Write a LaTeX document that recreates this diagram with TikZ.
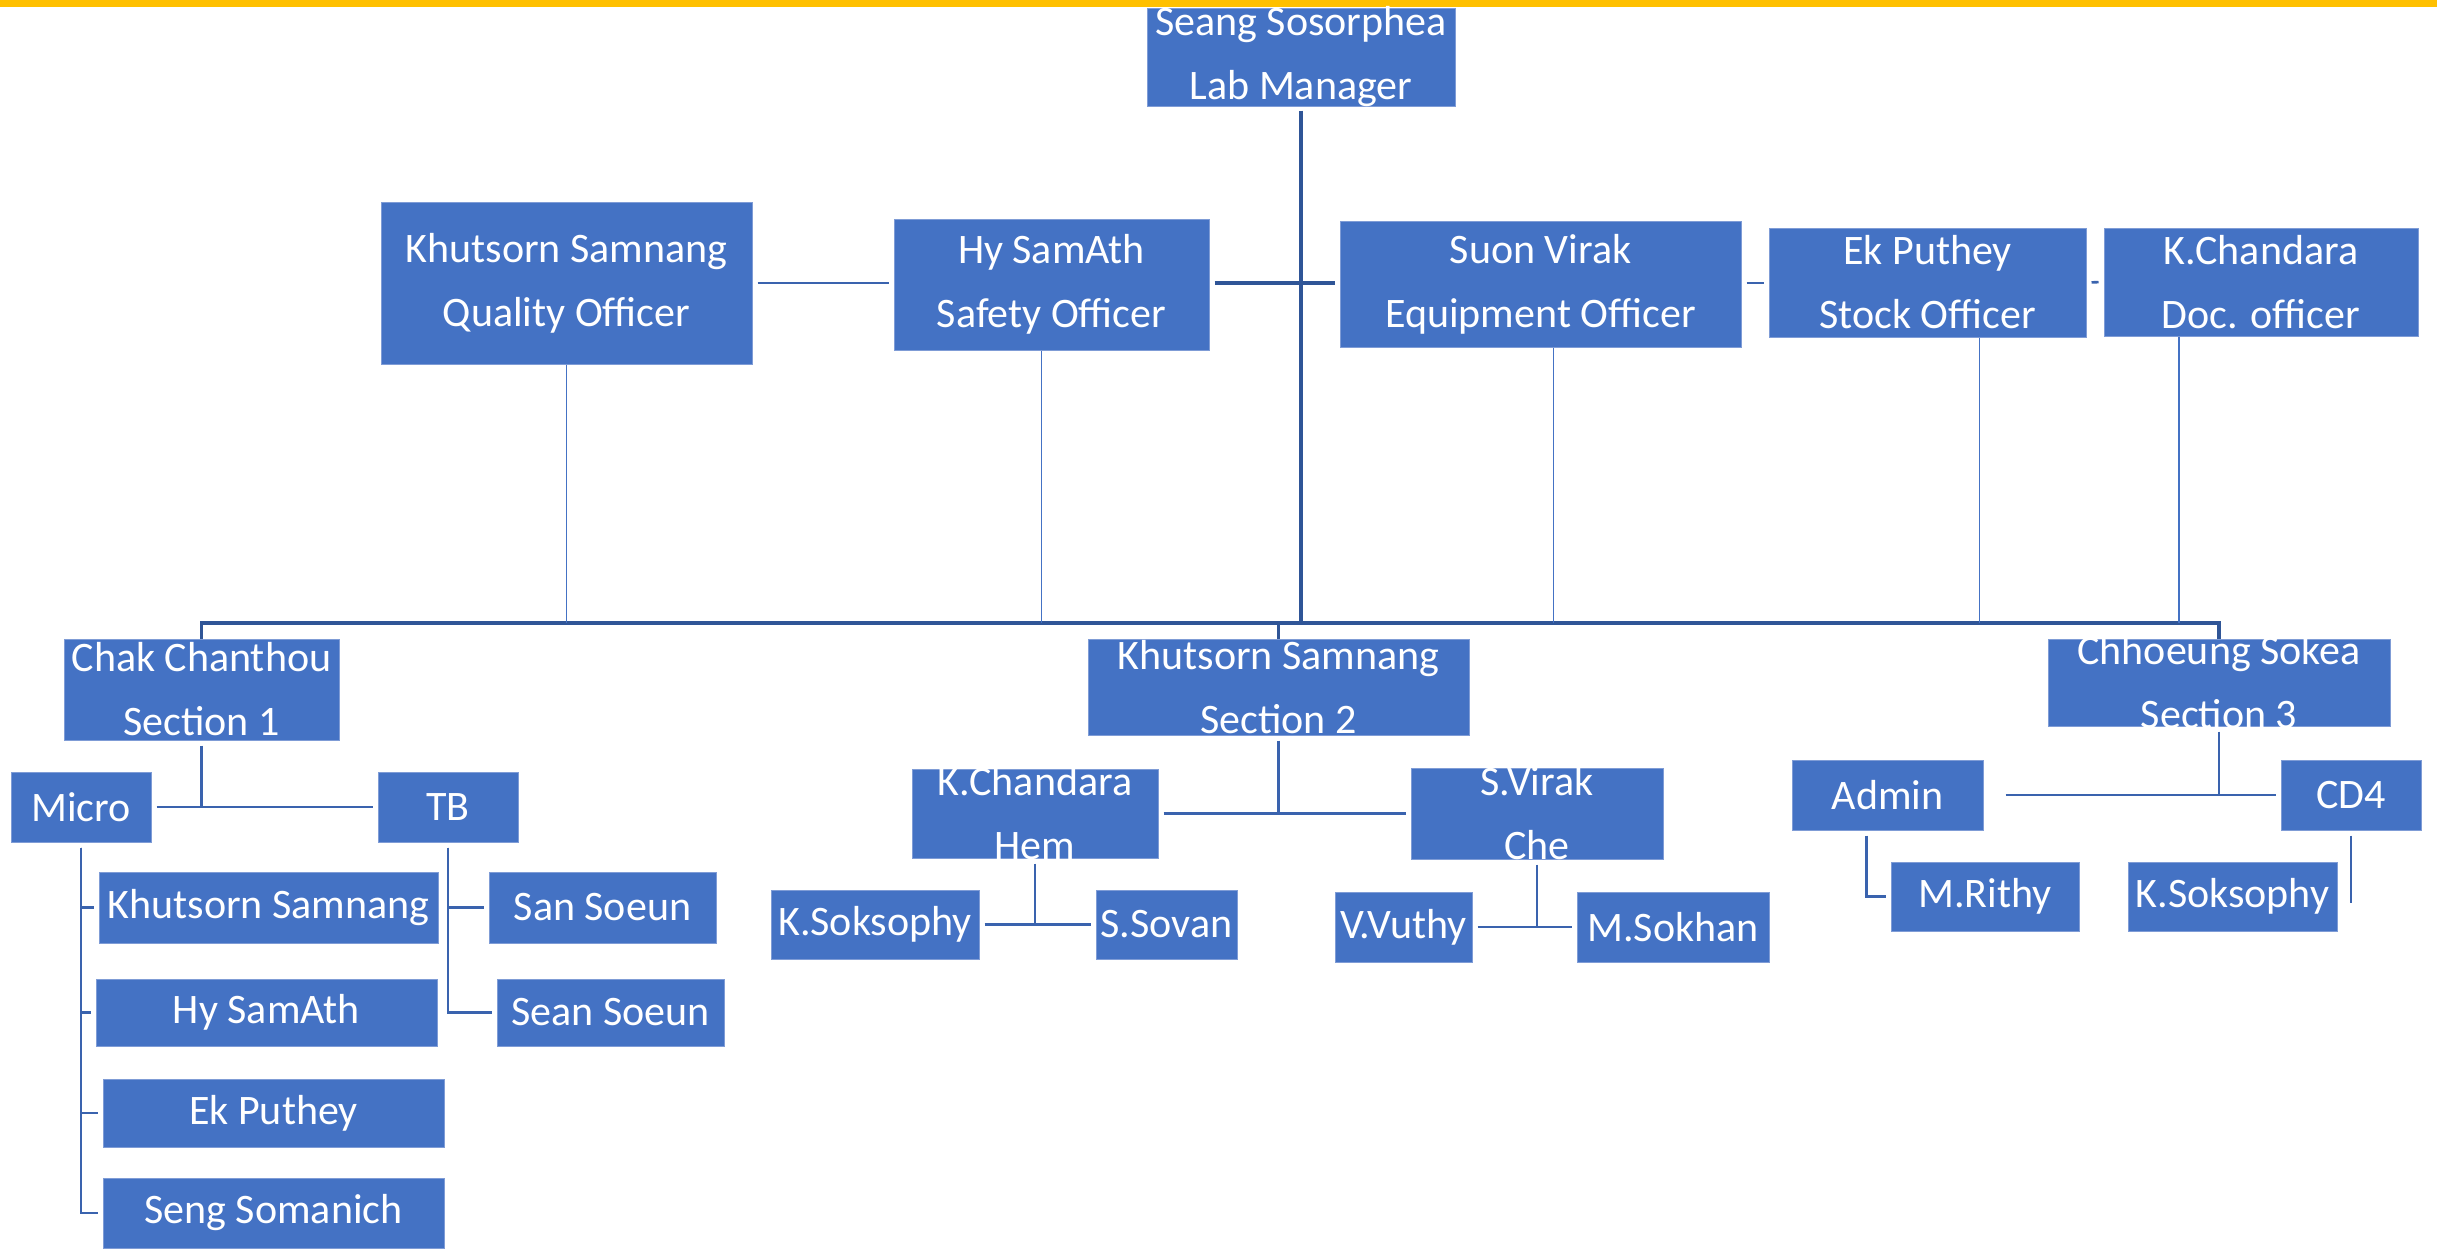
\documentclass[tikz,border=0pt]{standalone}
\usepackage{fontspec}
\setmainfont{Carlito}
\definecolor{boxblue}{HTML}{4472C4}
\definecolor{boxedge}{HTML}{7F9CD6}
\definecolor{linedark}{HTML}{2F5597}
\definecolor{linemid}{HTML}{3A63AE}
\definecolor{topgold}{HTML}{FFC000}
\tikzset{
  box/.style={rectangle, fill=boxblue, draw=boxedge, line width=1pt, inner sep=0pt},
  txt/.style={text=white, align=center, inner sep=0pt, font=\fontsize{42}{64}\selectfont},
  mainline/.style={draw=linedark, line width=3.5pt},
  offline/.style={draw=boxblue, line width=1.3pt},
  conn/.style={draw=linemid, line width=2.6pt},
  gap/.style={shorten <=5pt, shorten >=5pt}
}
\begin{document}
\begin{tikzpicture}[x=1pt,y=-1pt]
        \useasboundingbox (0,0) rectangle (2437,1251);
        \fill[topgold] (0,0) rectangle (2437,7);
        % manager and officers
        \node[box, minimum width=308pt, minimum height=98pt, label={[txt]center:Seang Sosorphea\\Lab Manager}] (lm) at (1301,57) {};
        \node[box, minimum width=371pt, minimum height=162pt, label={[txt]center:Khutsorn Samnang\\Quality Officer}] (qo) at (566.5,283) {};
        \node[box, minimum width=315pt, minimum height=131pt, label={[txt]center:Hy SamAth\\Safety Officer}] (so) at (1051.5,284.5) {};
        \node[box, minimum width=401pt, minimum height=126pt, label={[txt]center:Suon Virak\\Equipment Officer}] (eo) at (1540.5,284) {};
        \node[box, minimum width=317pt, minimum height=109pt, label={[txt]center:Ek Puthey\\Stock Officer}] (sto) at (1927.5,282.5) {};
        \node[box, minimum width=314pt, minimum height=108pt, label={[txt]center:K.Chandara\\Doc. officer}] (doc) at (2261,282) {};
        % sections
        \node[box, minimum width=275pt, minimum height=101pt, label={[txt]center:Chak Chanthou\\Section 1}] (s1) at (201.5,689.5) {};
        \node[box, minimum width=381pt, minimum height=96pt, label={[txt]center:Khutsorn Samnang\\Section 2}] (s2) at (1278.5,687) {};
        \node[box, minimum width=342pt, minimum height=87pt, label={[txt]center:Chhoeung Sokea\\Section 3}] (s3) at (2219,682.5) {};
        % section 1
        \node[box, minimum width=140pt, minimum height=70pt, label={[txt]center:Micro}] (mi) at (81,807) {};
        \node[box, minimum width=140pt, minimum height=70pt, label={[txt]center:TB}] (tb) at (448,807) {};
        \node[box, minimum width=339pt, minimum height=71pt, label={[txt]center:Khutsorn Samnang}] (m1) at (268.5,907.5) {};
        \node[box, minimum width=341pt, minimum height=67pt, label={[txt]center:Hy SamAth}] (m2) at (266.5,1012.5) {};
        \node[box, minimum width=341pt, minimum height=68pt, label={[txt]center:Ek Puthey}] (m3) at (273.5,1113) {};
        \node[box, minimum width=341pt, minimum height=70pt, label={[txt]center:Seng Somanich}] (m4) at (273.5,1213) {};
        \node[box, minimum width=227pt, minimum height=71pt, label={[txt]center:San Soeun}] (t1) at (602.5,907.5) {};
        \node[box, minimum width=227pt, minimum height=67pt, label={[txt]center:Sean Soeun}] (t2) at (610.5,1012.5) {};
        % section 2
        \node[box, minimum width=246pt, minimum height=89pt, label={[txt]center:K.Chandara\\Hem}] (kc) at (1035,813.5) {};
        \node[box, minimum width=252pt, minimum height=91pt, label={[txt]center:S.Virak\\Che}] (sv) at (1537,813.5) {};
        \node[box, minimum width=208pt, minimum height=69pt, label={[txt]center:K.Soksophy}] (ks) at (875,924.5) {};
        \node[box, minimum width=141pt, minimum height=69pt, label={[txt]center:S.Sovan}] (sov) at (1166.5,924.5) {};
        \node[box, minimum width=137pt, minimum height=70pt, label={[txt]center:V.Vuthy}] (vu) at (1403.5,927) {};
        \node[box, minimum width=192pt, minimum height=70pt, label={[txt]center:M.Sokhan}] (mso) at (1673,927) {};
        % section 3
        \node[box, minimum width=191pt, minimum height=70pt, label={[txt]center:Admin}] (ad) at (1887.5,795) {};
        \node[box, minimum width=140pt, minimum height=70pt, label={[txt]center:CD4}] (cd) at (2351,795) {};
        \node[box, minimum width=188pt, minimum height=69pt, label={[txt]center:M.Rithy}] (mr) at (1985,896.5) {};
        \node[box, minimum width=209pt, minimum height=69pt, label={[txt]center:K.Soksophy}] (ks2) at (2232.5,896.5) {};
        % main lines
        \coordinate (bar) at (1301,623);
        \draw[mainline, shorten <=4pt] (lm.south) -- (lm.south |- bar);
        \draw[mainline] (s1.north) |- (bar) -| (s3.north);
        \draw[mainline] (s2.north) -- (s2.north |- bar);
        \draw[conn, gap] (qo.east) -- (qo.east -| so.west);
        \draw[mainline, gap] (qo.east -| so.east) -- (qo.east -| eo.west);
        \draw[conn, gap] (qo.east -| eo.east) -- (qo.east -| sto.west);
        \draw[conn, gap] (sto.east) -- (doc.west);
        \draw[offline] (qo.south) -- (qo.south |- bar);
        \draw[offline] ([xshift=-10pt]so.south) -- ([xshift=-10pt]so.south |- bar);
        \draw[offline] ([xshift=13pt]eo.south) -- ([xshift=13pt]eo.south |- bar);
        \draw[offline] ([xshift=52pt]sto.south) -- ([xshift=52pt]sto.south |- bar);
        \draw[offline] ([xshift=-82pt]doc.south) -- ([xshift=-82pt]doc.south |- bar);
        % section 1 lines
        \draw[conn, shorten <=5pt] (s1.south) -- (s1.south |- mi.east);
        \draw[conn, gap] (mi.east) -- (tb.west);
        \draw[conn, gap] (mi.south) |- (m1.west);
        \draw[conn, gap] (mi.south) |- (m2.west);
        \draw[conn, gap] (mi.south) |- (m3.west);
        \draw[conn, gap] (mi.south) |- (m4.west);
        \draw[conn, gap] (tb.south) |- (t1.west);
        \draw[conn, gap] (tb.south) |- (t2.west);
        % section 2 lines
        \draw[conn, shorten <=5pt] (s2.south) -- (s2.south |- kc.east);
        \draw[conn, gap] (kc.east) -- (sv.west);
        \draw[conn, shorten <=5pt] (kc.south) -- (kc.south |- ks.east);
        \draw[conn, gap] (ks.east) -- (sov.west);
        \draw[conn, shorten <=5pt] (sv.south) -- (sv.south |- vu.east);
        \draw[conn, gap] (vu.east) -- (mso.west);
        % section 3 lines
        \draw[conn, shorten <=5pt] (s3.south) -- (s3.south |- ad.east);
        \draw[conn, shorten <=22pt, shorten >=5pt] (ad.east) -- (cd.west);
        \draw[conn, gap] ([xshift=-21pt]ad.south) |- (mr.west);
        \draw[conn, shorten <=5pt] (cd.south) -- ([yshift=-6pt]cd.south |- ks2.east);
\end{tikzpicture}
\end{document}
